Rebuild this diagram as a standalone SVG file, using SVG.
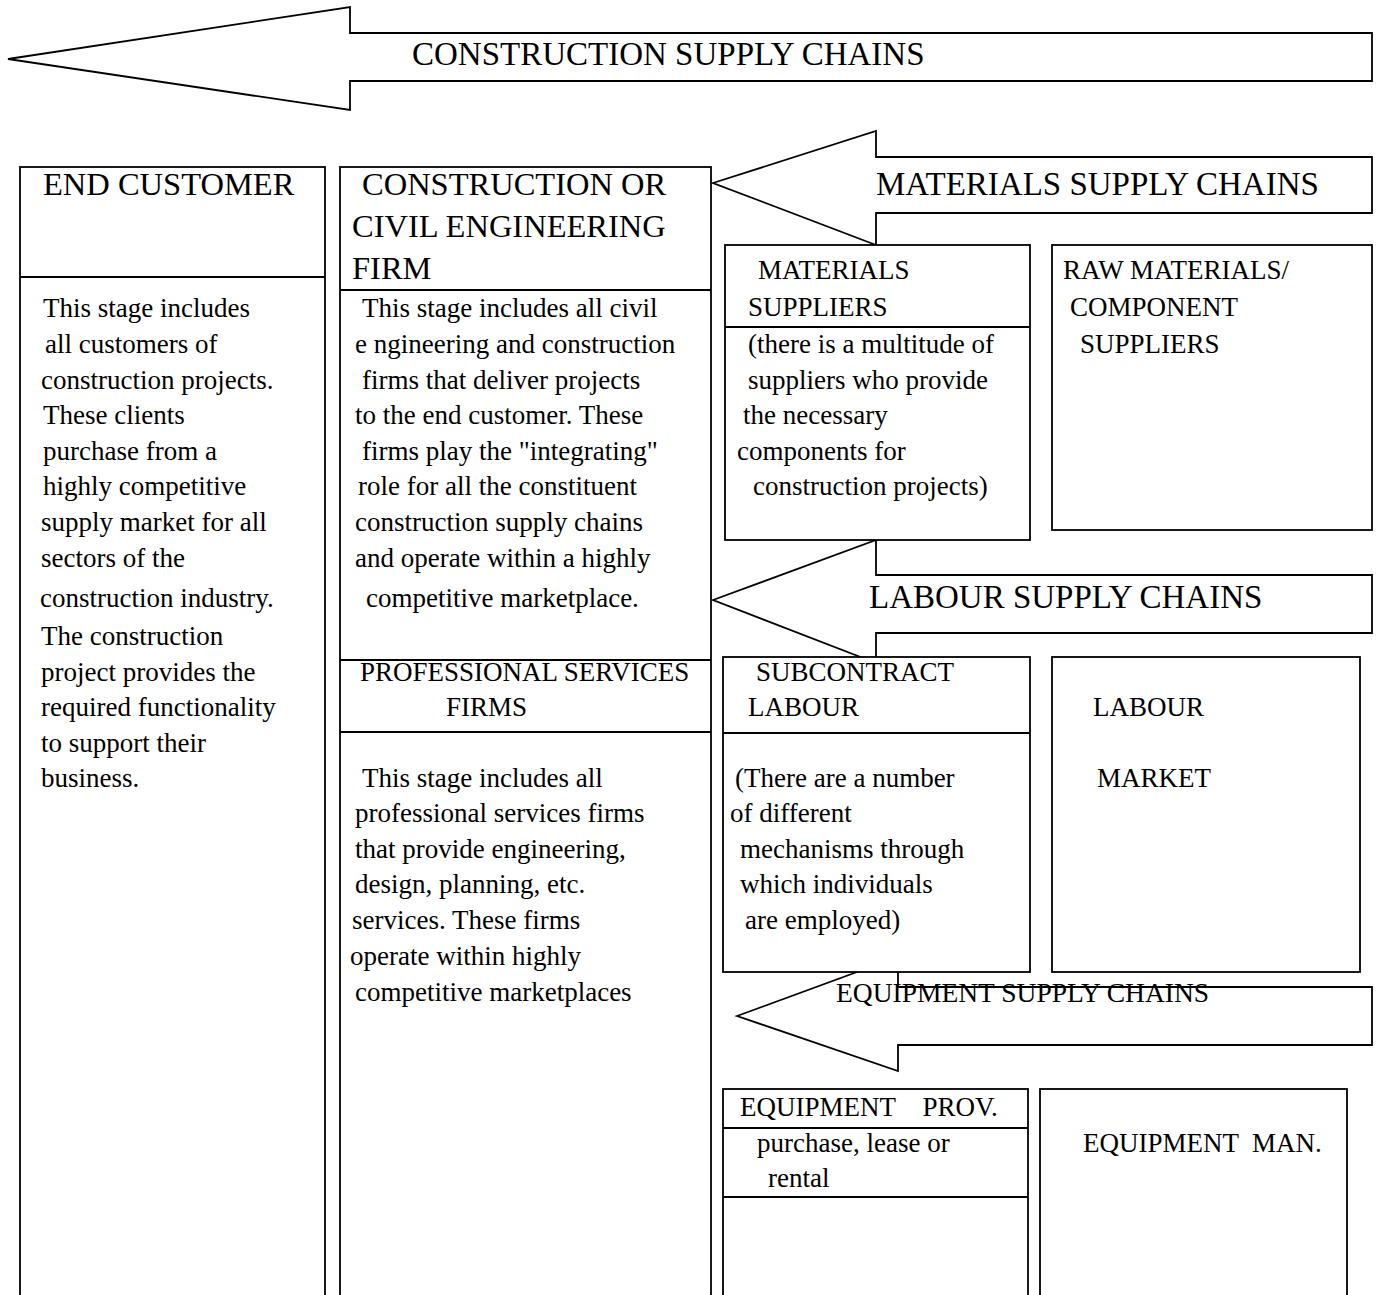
<svg xmlns="http://www.w3.org/2000/svg" width="1382" height="1295" viewBox="0 0 1382 1295">
<style>
.bg{fill:#ffffff}
.ar{fill:#ffffff;stroke:#000;stroke-width:1.8;stroke-linejoin:miter}
.bx{fill:#ffffff;stroke:#000;stroke-width:1.8}
.ln{stroke:#000;stroke-width:1.8}
text{font-family:"Liberation Serif","Times New Roman",serif;fill:#000}
.big{font-size:33px}
.hd{font-size:32.5px}
.sm{font-size:27px}
.bd{font-size:27px}
</style>
<rect class="bg" x="0" y="0" width="1382" height="1295"/>
<g id="connectors">
  <polygon class="ar" points="8,59 350,7 350,33 1372,33 1372,81 350,81 350,110"/>
  <polygon class="ar" points="713,183 876,131 876,157 1372,157 1372,213 876,213 876,245"/>
  <polygon class="ar" points="713,600 876,540 876,575 1372,575 1372,633 876,633 876,663"/>
  <polygon class="ar" points="737,1016 898,957 898,987 1372,987 1372,1045 898,1045 898,1071"/>
</g>
<g id="label-construction"><text class="big" x="412" y="65">CONSTRUCTION SUPPLY CHAINS</text></g>
<g id="label-materials"><text class="big" x="876" y="195">MATERIALS SUPPLY CHAINS</text></g>
<g id="label-labour"><text class="big" x="869" y="608">LABOUR SUPPLY CHAINS</text></g>

<g id="end-customer">
  <rect class="bx" x="20" y="167" width="305" height="1140"/>
  <line class="ln" x1="20" y1="277" x2="325" y2="277"/>
  <text class="hd" x="43" y="195">END CUSTOMER</text>
  <text class="bd">
    <tspan x="43" y="317">This stage includes</tspan>
    <tspan x="45" y="353">all customers of</tspan>
    <tspan x="41" y="389">construction projects.</tspan>
    <tspan x="43" y="424">These clients</tspan>
    <tspan x="43" y="460">purchase from a</tspan>
    <tspan x="43" y="495">highly competitive</tspan>
    <tspan x="41" y="531">supply market for all</tspan>
    <tspan x="41" y="567">sectors of the</tspan>
    <tspan x="40" y="607">construction industry.</tspan>
    <tspan x="41" y="645">The construction</tspan>
    <tspan x="41" y="681">project provides the</tspan>
    <tspan x="41" y="716">required functionality</tspan>
    <tspan x="41" y="752">to support their</tspan>
    <tspan x="41" y="787">business.</tspan>
  </text>
</g>

<g id="construction-firm">
  <rect class="bx" x="340" y="167" width="371" height="1140"/>
  <line class="ln" x1="340" y1="290" x2="711" y2="290"/>
  <text class="hd">
    <tspan x="362" y="195">CONSTRUCTION OR</tspan>
    <tspan x="352" y="237">CIVIL ENGINEERING</tspan>
    <tspan x="352" y="279">FIRM</tspan>
  </text>
  <text class="bd">
    <tspan x="362" y="317">This stage includes all civil</tspan>
    <tspan x="355" y="353">e ngineering and construction</tspan>
    <tspan x="362" y="389">firms that deliver projects</tspan>
    <tspan x="355" y="424">to the end customer. These</tspan>
    <tspan x="362" y="460">firms play the "integrating"</tspan>
    <tspan x="358" y="495">role for all the constituent</tspan>
    <tspan x="355" y="531">construction supply chains</tspan>
    <tspan x="355" y="567">and operate within a highly</tspan>
    <tspan x="366" y="607">competitive marketplace.</tspan>
  </text>
</g>

<g id="professional-services">
  <line class="ln" x1="340" y1="660" x2="711" y2="660"/>
  <line class="ln" x1="340" y1="732" x2="711" y2="732"/>
  <text class="sm">
    <tspan x="360" y="681">PROFESSIONAL SERVICES</tspan>
    <tspan x="446" y="716">FIRMS</tspan>
  </text>
  <text class="bd">
    <tspan x="362" y="787">This stage includes all</tspan>
    <tspan x="355" y="822">professional services firms</tspan>
    <tspan x="355" y="858">that provide engineering,</tspan>
    <tspan x="355" y="893">design, planning, etc.</tspan>
    <tspan x="352" y="929">services. These firms</tspan>
    <tspan x="350" y="965">operate within highly</tspan>
    <tspan x="355" y="1001">competitive marketplaces</tspan>
  </text>
</g>

<g id="materials-suppliers">
  <rect class="bx" x="725" y="245" width="305" height="295"/>
  <line class="ln" x1="725" y1="327" x2="1030" y2="327"/>
  <text class="sm">
    <tspan x="758" y="279">MATERIALS</tspan>
    <tspan x="748" y="316">SUPPLIERS</tspan>
  </text>
  <text class="bd">
    <tspan x="748" y="353">(there is a multitude of</tspan>
    <tspan x="748" y="389">suppliers who provide</tspan>
    <tspan x="743" y="424">the necessary</tspan>
    <tspan x="737" y="460">components for</tspan>
    <tspan x="753" y="495">construction projects)</tspan>
  </text>
</g>

<g id="raw-materials">
  <rect class="bx" x="1052" y="245" width="320" height="285"/>
  <text class="sm">
    <tspan x="1063" y="279">RAW MATERIALS/</tspan>
    <tspan x="1070" y="316">COMPONENT</tspan>
    <tspan x="1080" y="353">SUPPLIERS</tspan>
  </text>
</g>

<g id="subcontract-labour">
  <rect class="bx" x="723" y="657" width="307" height="315"/>
  <line class="ln" x1="723" y1="733" x2="1030" y2="733"/>
  <text class="sm">
    <tspan x="756" y="681">SUBCONTRACT</tspan>
    <tspan x="748" y="716">LABOUR</tspan>
  </text>
  <text class="bd">
    <tspan x="735" y="787">(There are a number</tspan>
    <tspan x="730" y="822">of different</tspan>
    <tspan x="740" y="858">mechanisms through</tspan>
    <tspan x="740" y="893">which individuals</tspan>
    <tspan x="745" y="929">are employed)</tspan>
  </text>
</g>

<g id="labour-market">
  <rect class="bx" x="1052" y="657" width="308" height="315"/>
  <text class="sm">
    <tspan x="1093" y="716">LABOUR</tspan>
    <tspan x="1097" y="787">MARKET</tspan>
  </text>
</g>

<g id="label-equipment"><text class="sm" x="836" y="1002" style="font-size:27.5px">EQUIPMENT SUPPLY CHAINS</text></g>

<g id="equipment-provider">
  <rect class="bx" x="723" y="1089" width="305" height="220"/>
  <line class="ln" x1="723" y1="1128" x2="1028" y2="1128"/>
  <line class="ln" x1="723" y1="1197" x2="1028" y2="1197"/>
  <text class="sm" x="740" y="1116" xml:space="preserve">EQUIPMENT    PROV.</text>
  <text class="bd">
    <tspan x="757" y="1152">purchase, lease or</tspan>
    <tspan x="768" y="1187">rental</tspan>
  </text>
</g>

<g id="equipment-manufacturer">
  <rect class="bx" x="1040" y="1089" width="307" height="220"/>
  <text class="sm" x="1083" y="1152" xml:space="preserve">EQUIPMENT  MAN.</text>
</g>
</svg>
